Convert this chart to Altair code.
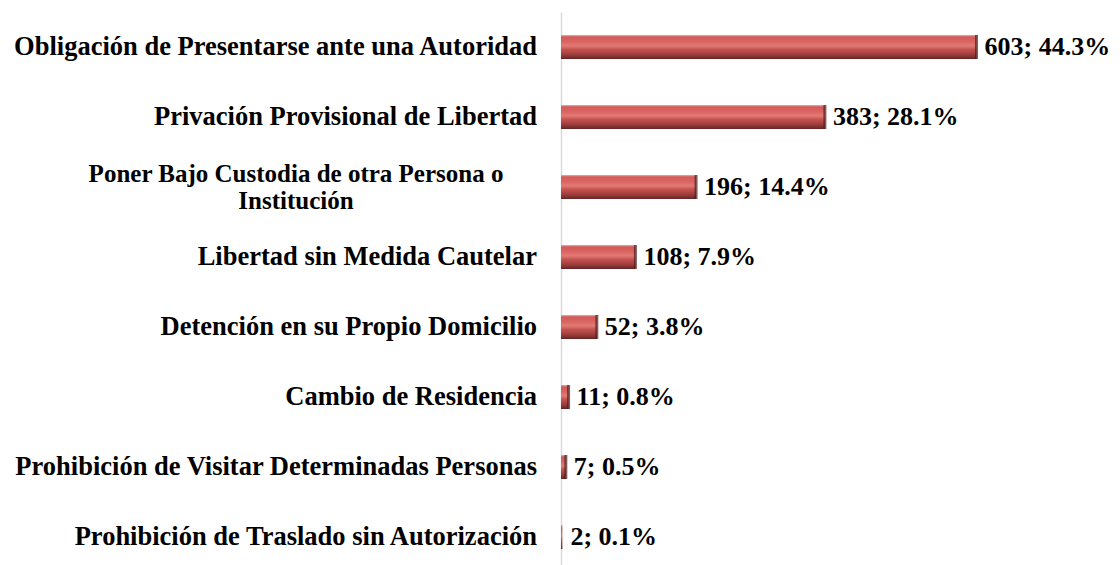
import altair as alt
import pandas as pd

categories = [
    "Obligación de Presentarse ante una Autoridad",
    "Privación Provisional de Libertad",
    "Poner Bajo Custodia de otra Persona o Institución",
    "Libertad sin Medida Cautelar",
    "Detención en su Propio Domicilio",
    "Cambio de Residencia",
    "Prohibición de Visitar Determinadas Personas",
    "Prohibición de Traslado sin Autorización",
]
display_labels = [
    "Obligación de Presentarse ante una Autoridad",
    "Privación Provisional de Libertad",
    "Poner Bajo Custodia de otra Persona o\nInstitución",
    "Libertad sin Medida Cautelar",
    "Detención en su Propio Domicilio",
    "Cambio de Residencia",
    "Prohibición de Visitar Determinadas Personas",
    "Prohibición de Traslado sin Autorización",
]
values = [603, 383, 196, 108, 52, 11, 7, 2]
percents = ["44.3%", "28.1%", "14.4%", "7.9%", "3.8%", "0.8%", "0.5%", "0.1%"]

df = pd.DataFrame({
    "cat": categories,
    "display": display_labels,
    "value": values,
    "pct": percents,
})
df["vlabel"] = df["value"].astype(str) + "; " + df["pct"]
df["multi"] = df["display"].str.contains("\n")

FONT = "Liberation Serif"
FS = 26.5

gradient = alt.Gradient(
    gradient="linear",
    x1=0, y1=0, x2=0, y2=1,
    stops=[
        alt.GradientStop(offset=0.0, color="#e8aeac"),
        alt.GradientStop(offset=0.08, color="#d25a57"),
        alt.GradientStop(offset=0.28, color="#db6562"),
        alt.GradientStop(offset=0.45, color="#e27a76"),
        alt.GradientStop(offset=0.6, color="#c6524f"),
        alt.GradientStop(offset=0.82, color="#9b3d3b"),
        alt.GradientStop(offset=1.0, color="#622524"),
    ],
)

xscale = alt.Scale(domain=[0, 640])

y = alt.Y(
    "cat:N",
    sort=categories,
    title=None,
    scale=alt.Scale(paddingInner=0.657, paddingOuter=0.3285),
    axis=alt.Axis(labels=False, ticks=False, title=None, grid=False,
                  domainColor="#d9d9d9", domainWidth=1.5),
)
x = alt.X("value:Q", scale=xscale, axis=None)
x0 = alt.XDatum(0, type="quantitative", scale=xscale, axis=None)

base = alt.Chart(df).encode(y=y)

bars = base.mark_bar(color=gradient).encode(x=x)

ends = base.transform_filter("datum.value > 3").mark_tick(
    color="#4a1918", thickness=3, size=24
).encode(x=x)

value_text = base.mark_text(
    align="left", baseline="middle", dx=8,
    font=FONT, fontSize=26, fontWeight="bold", color="#000000",
).encode(x=x, text="vlabel:N")

cat_single = base.transform_filter("!datum.multi").mark_text(
    align="right", baseline="middle", dx=-24,
    font=FONT, fontSize=FS, fontWeight="bold", color="#000000",
).encode(x=x0, text="display:N")

cat_multi = base.transform_filter("datum.multi").mark_text(
    align="center", baseline="middle", dx=-265, dy=-13,
    lineBreak="\n", lineHeight=27,
    font=FONT, fontSize=25, fontWeight="bold", color="#000000",
).encode(x=x0, text="display:N")

chart = alt.layer(bars, ends, value_text, cat_single, cat_multi).properties(
    width=441,
    height=560,
    background="white",
    autosize=alt.AutoSizeParams(type="none"),
    padding={"left": 553, "top": 4, "right": 110, "bottom": 0},
).configure_view(
    strokeWidth=0, stroke="transparent"
).configure_axisX(grid=False, domain=False, ticks=False, labels=False)

chart.save("out.html", embed_options={"renderer": "svg", "actions": False})
